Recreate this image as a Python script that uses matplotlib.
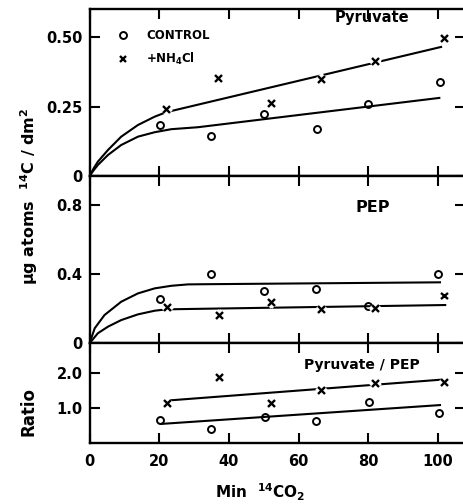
import matplotlib
matplotlib.use('Agg')
import matplotlib.pyplot as plt
import matplotlib.patheffects as pe
from matplotlib.lines import Line2D

# ---------------------------------------------------------------------------
# 14C labelling of pyruvate and PEP, control vs +NH4Cl
# ---------------------------------------------------------------------------

# sampling times (min 14CO2)
t_ctrl = [20.2, 34.8, 50.1, 65.3, 80.0, 100.5]
t_nh4 = [22.0, 37.0, 52.3, 66.7, 82.2, 101.8]

# pyruvate, ug atoms 14C / dm2
pyr_ctrl = [0.184, 0.145, 0.222, 0.171, 0.260, 0.339]
pyr_nh4 = [0.240, 0.352, 0.260, 0.349, 0.412, 0.497]

# PEP, ug atoms 14C / dm2
pep_t_ctrl = [20.2, 34.9, 50.1, 64.9, 79.9, 100.0]
pep_t_nh4 = [22.3, 37.2, 52.3, 66.7, 82.2, 101.9]
pep_ctrl = [0.256, 0.398, 0.300, 0.311, 0.215, 0.398]
pep_nh4 = [0.204, 0.159, 0.234, 0.196, 0.200, 0.273]

# pyruvate / PEP ratio
rat_t_ctrl = [20.2, 34.8, 50.4, 65.1, 80.1, 100.2]
rat_t_nh4 = [22.3, 37.2, 52.3, 66.7, 82.2, 101.9]
rat_ctrl = [0.666, 0.40, 0.743, 0.637, 1.18, 0.857]
rat_nh4 = [1.12, 1.87, 1.14, 1.50, 1.69, 1.73]

# hand-drawn fit curves
fit_pyr_ctrl_x = [0, 1.2, 2.4, 5.3, 9.1, 13.9, 18.7, 23.5, 31.1, 100.7]
fit_pyr_ctrl_y = [0, 0.021, 0.040, 0.076, 0.112, 0.142, 0.158, 0.169, 0.176, 0.282]
fit_pyr_nh4_x = [0, 1.2, 2.4, 5.3, 9.1, 13.9, 18.7, 22.0, 26.0, 101.2]
fit_pyr_nh4_y = [0, 0.028, 0.052, 0.094, 0.142, 0.184, 0.214, 0.230, 0.242, 0.466]

fit_pep_ctrl_x = [0, 1.5, 4.3, 9.1, 13.9, 18.7, 23.5, 28.3, 33.0, 100.9]
fit_pep_ctrl_y = [0, 0.087, 0.163, 0.240, 0.288, 0.317, 0.332, 0.340, 0.341, 0.352]
fit_pep_nh4_x = [0, 2.4, 5.3, 9.1, 13.9, 18.7, 22.0, 102.4]
fit_pep_nh4_y = [0, 0.058, 0.096, 0.134, 0.167, 0.188, 0.196, 0.221]

fit_rat_ctrl_x = [20.2, 100.9]
fit_rat_ctrl_y = [0.543, 1.086]
fit_rat_nh4_x = [21.9, 100.9]
fit_rat_nh4_y = [1.21, 1.81]

x_ticks = [0, 20, 40, 60, 80, 100]
x_ticklabels = ['0', '20', '40', '60', '80', '100']

plt.rcParams['font.family'] = ['DejaVu Sans']
plt.rcParams['font.weight'] = 'bold'
plt.rcParams['mathtext.fontset'] = 'dejavusans'
plt.rcParams['mathtext.default'] = 'bf'

W, H = 463, 504
fig = plt.figure(figsize=(W / 100, H / 100), dpi=100)


def px_axes(left, top, right, bottom):
    return fig.add_axes([left / W, 1 - bottom / H, (right - left) / W, (bottom - top) / H])


ax1 = px_axes(89.5, 9.5, 464.5, 176.1)
ax2 = px_axes(89.5, 176.1, 464.5, 343.3)
ax3 = px_axes(89.5, 343.3, 464.5, 443.0)

XMAX = (464.5 - 89.5) / 3.484
halo = [pe.Stroke(linewidth=5.5, foreground='white'), pe.Normal()]
o_kw = dict(ls='none', marker='o', ms=5, mfc='none', mec='black', mew=1.4, zorder=4)
x_kw = dict(ls='none', marker='x', ms=5, mec='black', mew=1.7, zorder=5, path_effects=halo)
line_kw = dict(color='black', lw=1.5, zorder=3, solid_capstyle='butt')

for ax in (ax1, ax2, ax3):
    ax.set_xlim(0, XMAX)
    ax.set_xticks(x_ticks)
    ax.tick_params(direction='in', length=7, width=1.5, top=True, right=True,
                   labelsize=10.5, pad=5)
    ax.tick_params(axis='x', pad=8)
    for s in ax.spines.values():
        s.set_linewidth(1.7)

# --- pyruvate
ax1.plot(fit_pyr_ctrl_x, fit_pyr_ctrl_y, **line_kw)
ax1.plot(fit_pyr_nh4_x, fit_pyr_nh4_y, **line_kw)
ax1.plot(t_ctrl, pyr_ctrl, **o_kw)
ax1.plot(t_nh4, pyr_nh4, **x_kw)
ax1.set_ylim(0, 0.60)
ax1.set_yticks([0, 0.25, 0.5])
ax1.set_yticklabels(['0', '0.25', '0.50'])
ax1.tick_params(labelbottom=False)
ax1.text(81.2, 0.570, 'Pyruvate', ha='center', va='center', fontsize=10.5)

handles = [Line2D([], [], ls='none', marker='o', ms=5, mfc='none', mec='black', mew=1.4),
           Line2D([], [], ls='none', marker='x', ms=5, mec='black', mew=1.7)]
ax1.legend(handles, ['CONTROL', '+NH$_4$Cl'], loc='upper left',
           bbox_to_anchor=(0.073, 0.88), frameon=False, borderpad=0, borderaxespad=0,
           handlelength=1.0, handletextpad=1.5, labelspacing=0.75,
           prop={'size': 8.5, 'weight': 'bold'})

# --- PEP
ax2.plot(fit_pep_ctrl_x, fit_pep_ctrl_y, **line_kw)
ax2.plot(fit_pep_nh4_x, fit_pep_nh4_y, **line_kw)
ax2.plot(pep_t_ctrl, pep_ctrl, **o_kw)
ax2.plot(pep_t_nh4, pep_nh4, **x_kw)
ax2.set_ylim(0, 0.965)
ax2.set_yticks([0, 0.4, 0.8])
ax2.set_yticklabels(['0', '0.4', '0.8'])
ax2.tick_params(labelbottom=False)
ax2.text(81.3, 0.786, 'PEP', ha='center', va='center', fontsize=11.5)

# --- ratio
ax3.plot(fit_rat_ctrl_x, fit_rat_ctrl_y, **line_kw)
ax3.plot(fit_rat_nh4_x, fit_rat_nh4_y, **line_kw)
ax3.plot(rat_t_ctrl, rat_ctrl, **o_kw)
ax3.plot(rat_t_nh4, rat_nh4, **x_kw)
ax3.set_ylim(0, 2.85)
ax3.set_yticks([1.0, 2.0])
ax3.set_yticklabels(['1.0', '2.0'])
ax3.set_xticklabels(x_ticklabels)
ax3.text(78.3, 2.24, 'Pyruvate / PEP', ha='center', va='center', fontsize=10)

fig.text(29 / W, 1 - 196 / H, 'μg atoms  $^{14}$C / dm$^{2}$', rotation=90,
         ha='center', va='center', fontsize=11.5)
fig.text(29 / W, 1 - 411 / H, 'Ratio', rotation=90, ha='center', va='center', fontsize=12)
fig.text(260 / W, 1 - 492 / H, 'Min  $^{14}$CO$_2$', ha='center', va='center', fontsize=11)

fig.savefig('out.png', dpi=100)
